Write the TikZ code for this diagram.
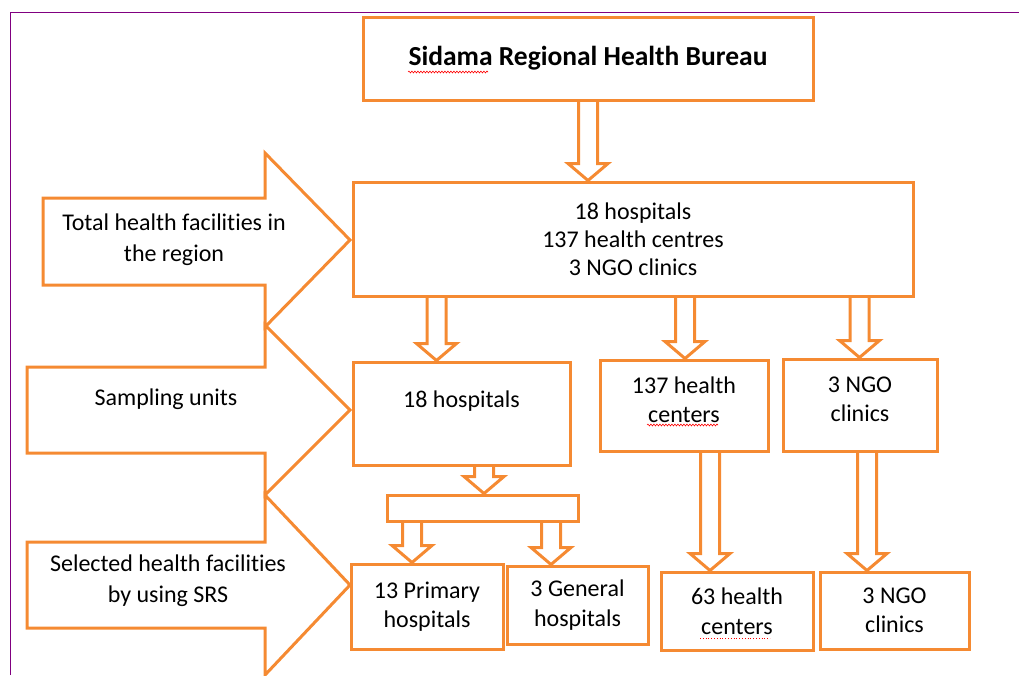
\documentclass[tikz,border=0pt]{standalone}
\usepackage{fontspec}
\setmainfont{Carlito}[Ligatures=NoCommon]
\usetikzlibrary{arrows.meta, positioning, calc, decorations.pathmorphing}
\definecolor{boxorange}{RGB}{245,138,50}
\definecolor{framepurple}{RGB}{128,0,128}

\begin{document}
\begin{tikzpicture}[
    x=1pt, y=-1pt,                                   % work in page pixels, y downwards
    box/.style={draw=boxorange, line width=3pt, align=center, inner sep=0pt,
                font=\fontsize{24}{29.5}\selectfont},  % Orange framed boxes
    sidearrow/.style={draw=boxorange, line width=3pt, line join=miter},
    sidetext/.style={align=center, font=\fontsize{24}{31}\selectfont},
    hollow/.style={draw=boxorange, line width=3pt, line join=miter,
                   to path={let \p1=(\tikztostart), \p2=(\tikztotarget) in
                     (\x1-9.5pt,\y1) -- (\x1-9.5pt,\y2+17pt) -- (\x1-20pt,\y2+17pt)
                     -- (\x1,\y2) -- (\x1+20pt,\y2+17pt) -- (\x1+9.5pt,\y2+17pt)
                     -- (\x1+9.5pt,\y1)}},               % Hollow block arrows
    squiggle/.style={red, line width=0.6pt, decorate,
                     decoration={snake, amplitude=0.9pt, segment length=3pt}}
]
\useasboundingbox (0,0) rectangle (1019,675);

% --- PAGE FRAME ---
\draw[framepurple, line width=1pt] (10,675) -- (10,12) -- (1019,12);

% --- BOXES ---
\node[box, minimum width=450pt, minimum height=83pt, font=\fontsize{27.5}{29}\selectfont\bfseries]
    (bureau) at (588,58.5) {Sidama Regional Health Bureau};
\node[box, minimum width=560pt, minimum height=114pt, font=\fontsize{24}{28}\selectfont] (total) at (633,239)
    {18 hospitals\\137 health centres\\3 NGO clinics};

\node[box, minimum width=217pt, minimum height=103pt, text depth=28pt] (hosp) at (461.5,413.5) {18 hospitals};
\node[box, minimum width=168pt, minimum height=91pt, text depth=12pt] (hc) at (684,405.5) {137 health\\centers};
\node[box, minimum width=154pt, minimum height=92pt, text depth=12pt] (ngo) at (860,405) {3 NGO\\clinics};

\node[box, minimum width=191pt, minimum height=26pt] (split) at (482.5,508) {};

\node[box, minimum width=152pt, minimum height=85pt] (prim) at (427,606.5) {13 Primary\\hospitals};
\node[box, minimum width=141pt, minimum height=78pt] (gen) at (577.5,605) {3 General\\hospitals};
\node[box, minimum width=152pt, minimum height=78pt] (hcsel) at (737,611) {63 health\\centers};
\node[box, minimum width=149pt, minimum height=77pt] (ngosel) at (894.5,610.5) {3 NGO\\clinics};

% --- HOLLOW ARROWS BETWEEN BOXES ---
\draw[hollow] (bureau.south) to (total.north);
\draw[hollow] ([xshift=-196.5pt]total.south) to (hosp.north);
\draw[hollow] ([xshift=52pt]total.south) to (hc.north);
\draw[hollow] ([xshift=226.5pt]total.south) to (ngo.north);
\draw[hollow] ([xshift=22.5pt]hosp.south) to (split.north);
\draw[hollow] ([xshift=-70.5pt]split.south) to (prim.north);   % to primary hospitals
\draw[hollow] ([xshift=68.5pt]split.south) to (gen.north);     % to general hospitals
\draw[hollow] ([xshift=26pt]hc.south) to (hcsel.north);
\draw[hollow] ([xshift=7pt]ngo.south) to (ngosel.north);

% --- SIDE ARROWS WITH STAGE NAMES ---
\draw[sidearrow] (43,198) -- (265,198) -- (265,153) -- (350,240) -- (265,327) -- (265,285) -- (43,285) -- cycle;
\draw[sidearrow] (27,367) -- (265,367) -- (265,325) -- (350,410) -- (265,495) -- (265,453) -- (27,453) -- cycle;
\draw[sidearrow] (27,542) -- (265,542) -- (265,495) -- (350,585) -- (265,675) -- (265,628) -- (27,628) -- cycle;

\node[sidetext] (stage1) at (174,240) {Total health facilities in\\the region};
\node[sidetext] (stage2) at (166,399) {Sampling units};
\node[sidetext] (stage3) at (168,581) {Selected health facilities\\by using SRS};

% --- SPELL-CHECK UNDERLINES ---
\draw[squiggle] (408,72) -- (488,72);
\draw[squiggle] (647,425) -- (718,425);
\draw[red, line width=0.8pt, dotted] (700,638) -- (770,638);

\end{tikzpicture}
\end{document}
